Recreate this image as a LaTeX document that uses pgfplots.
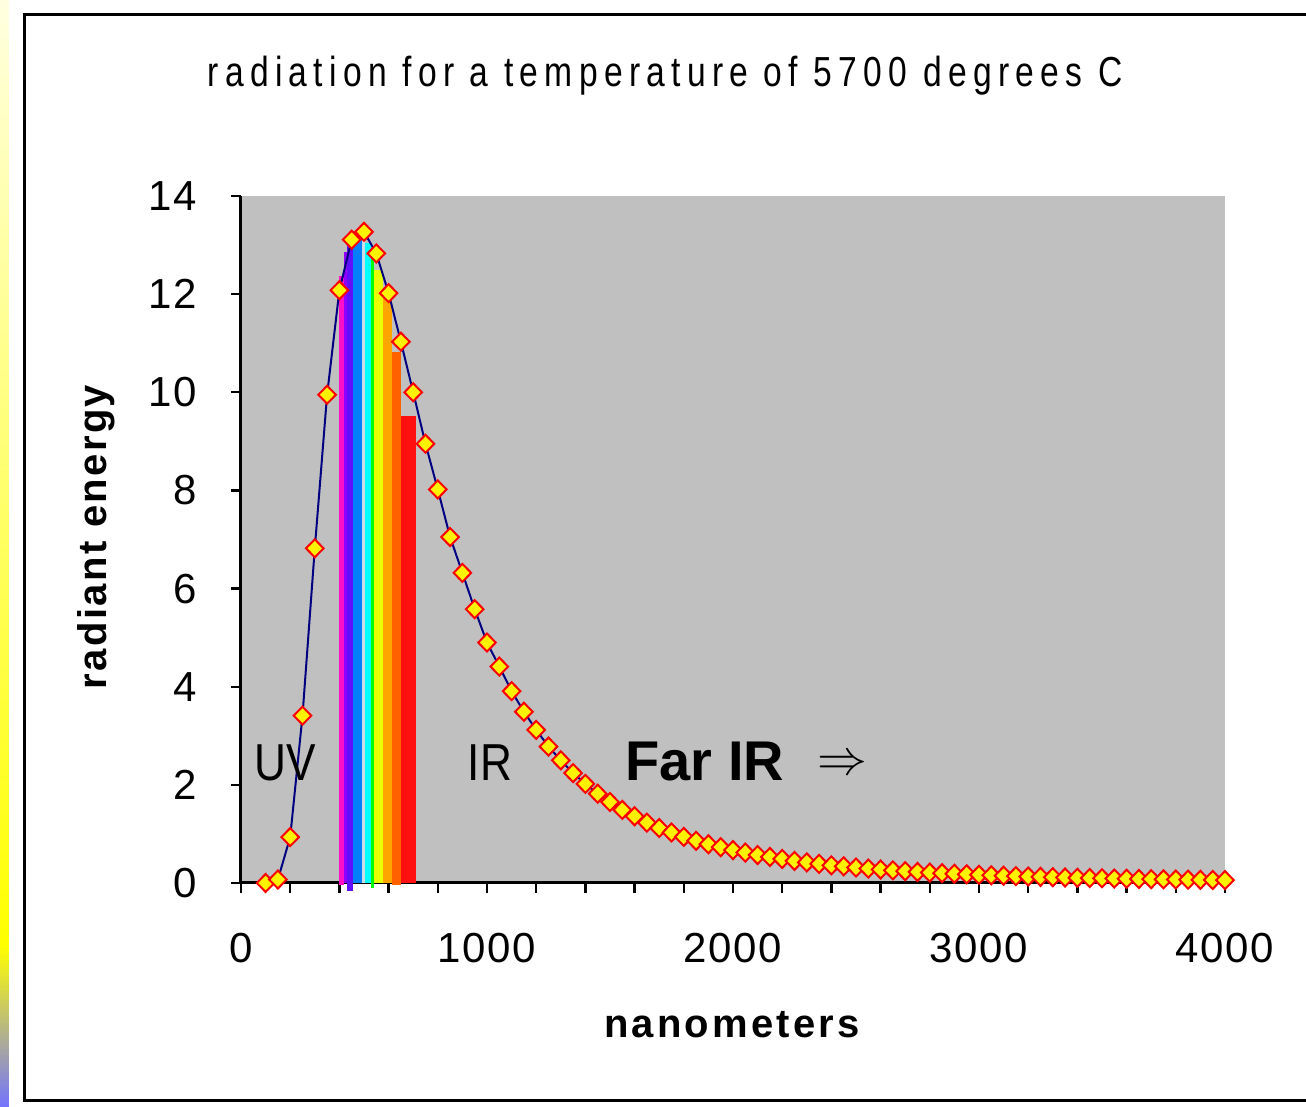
\documentclass[border=0pt]{standalone}
\usepackage{fontspec}
\setmainfont{Liberation Sans}
\newfontfamily\titlefont[FakeStretch=0.8,LetterSpace=15]{Liberation Sans}
\newfontfamily\xlabfont[LetterSpace=8]{Liberation Sans}
\newfontfamily\ylabfont[LetterSpace=6]{Liberation Sans}
\newfontfamily\tickfont[LetterSpace=4]{Liberation Sans}
\newfontfamily\bandfont[FakeStretch=0.85]{Liberation Sans}
\usepackage{pgfplots}
\pgfplotsset{compat=1.18}

\definecolor{plotgray}{HTML}{C0C0C0}
\definecolor{curve}{HTML}{000080}
\definecolor{cmag}{HTML}{FF10C8}
\definecolor{cvio}{HTML}{9000FF}
\definecolor{cind}{HTML}{6010FF}
\definecolor{cblu}{HTML}{0080FF}
\definecolor{cpal}{HTML}{C8DCE8}
\definecolor{ccya}{HTML}{00FFFF}
\definecolor{cgre}{HTML}{00FF00}
\definecolor{cyel}{HTML}{E8FF00}
\definecolor{cora}{HTML}{FFA500}
\definecolor{cdor}{HTML}{FF6000}
\definecolor{cred}{HTML}{FF1010}

\begin{document}
\begin{tikzpicture}
\path[use as bounding box] (-120.5pt,-112pt) rectangle (532.5pt,441.5pt);
% strip down the left edge
\shade[top color=yellow!12, bottom color=yellow] (-120.5pt,441.5pt) rectangle (-116pt,-31.5pt);
\shade[top color=yellow, bottom color=blue!55!white] (-120.5pt,-31.5pt) rectangle (-116pt,-112pt);
\draw[line width=1.5pt] (545pt,434pt) -- (-108pt,434pt) -- (-108pt,-108.5pt) -- (545pt,-108.5pt);

\begin{axis}[
    scale only axis,
    width=492pt, height=343.5pt,
    xmin=0, xmax=4000,
    ymin=0, ymax=14,
    axis x line*=bottom, axis y line*=left,
    axis line style={line width=1.5pt,-},
    axis background/.style={fill=plotgray},
    tick align=outside,
    tick style={black, line width=1.2pt},
    major tick length=5pt, minor tick length=5pt,
    xtick={0,1000,...,4000},
    minor xtick={200,400,...,3800},
    ytick={0,2,...,14},
    scaled x ticks=false,
    /pgf/number format/1000 sep={},
    /pgf/number format/assume math mode=true,
    xticklabel style={font=\tickfont\fontsize{21}{21}\selectfont, anchor=base, inner sep=0pt, yshift=-34.5pt},
    yticklabel style={font=\tickfont\fontsize{21}{21}\selectfont, anchor=east, inner sep=0pt, xshift=-17pt},
    title={radiation for a temperature of 5700 degrees C},
    title style={at={(axis description cs:0.4309,1.1412)}, anchor=base, inner sep=0pt,
        font=\titlefont\fontsize{21}{21}\selectfont},
    xlabel={nanometers},
    xlabel style={at={(axis description cs:0.499,-0.2242)}, anchor=base, inner sep=0pt,
        font=\xlabfont\bfseries\fontsize{20}{20}\selectfont},
    ylabel={radiant energy},
    ylabel style={at={(axis description cs:-0.1366,0.5037)}, anchor=base, inner sep=0pt,
        font=\ylabfont\bfseries\fontsize{20}{20}\selectfont},
    clip=false,
]

% visible spectrum bands
\addplot[draw=none, fill=cmag] coordinates {(398,-0.04) (398,12.37) (419,12.37) (419,-0.04)};
\addplot[draw=none, fill=cvio] coordinates {(419,0) (419,12.85) (432,12.85) (432,0)};
\addplot[draw=none, fill=cind] coordinates {(432,-0.17) (432,13.05) (454,13.05) (454,-0.17)};
\addplot[draw=none, fill=cblu] coordinates {(454,0) (454,13.27) (491,13.27) (491,0)};
\addplot[draw=none, fill=cpal] coordinates {(491,0) (491,13.1) (504,13.1) (504,0)};
\addplot[draw=none, fill=ccya] coordinates {(504,0) (504,13.05) (528,13.05) (528,0)};
\addplot[draw=none, fill=cgre] coordinates {(528,-0.1) (528,12.87) (541,12.87) (541,-0.1)};
\addplot[draw=none, fill=cyel] coordinates {(541,0) (541,12.49) (578,12.49) (578,0)};
\addplot[draw=none, fill=cora] coordinates {(578,0) (578,11.96) (613,11.96) (613,0)};
\addplot[draw=none, fill=cdor] coordinates {(613,-0.04) (613,10.83) (649,10.83) (649,-0.04)};
\addplot[draw=none, fill=cred] coordinates {(649,0) (649,9.52) (711,9.52) (711,0)};

% radiation curve
\addplot[color=curve, line width=1pt, mark=diamond*, mark size=4.5pt,
    mark options={fill=yellow, draw=red, line width=1pt, solid, xscale=1.3}]
coordinates {
(100,0.0002)(150,0.071)(200,0.935)(250,3.41)(300,6.82)(350,9.95)(400,12.08)
(450,13.11)(500,13.27)(550,12.83)(600,12.02)(650,11.03)(700,10.0)(750,8.95)
(800,8.02)(850,7.05)(900,6.32)(950,5.58)(1000,4.90)(1050,4.41)(1100,3.91)
(1150,3.49)(1200,3.12)(1250,2.78)(1300,2.50)(1350,2.24)(1400,2.02)(1450,1.82)
(1500,1.65)(1550,1.49)(1600,1.36)(1650,1.23)(1700,1.12)(1750,1.03)(1800,0.94)
(1850,0.86)(1900,0.79)(1950,0.73)(2000,0.67)(2050,0.62)(2100,0.57)(2150,0.53)
(2200,0.49)(2250,0.45)(2300,0.42)(2350,0.39)(2400,0.36)(2450,0.34)(2500,0.315)
(2550,0.294)(2600,0.275)(2650,0.257)(2700,0.241)(2750,0.226)(2800,0.212)
(2850,0.200)(2900,0.188)(2950,0.177)(3000,0.167)(3050,0.157)(3100,0.148)
(3150,0.140)(3200,0.132)(3250,0.125)(3300,0.118)(3350,0.112)(3400,0.106)
(3450,0.101)(3500,0.096)(3550,0.091)(3600,0.087)(3650,0.082)(3700,0.078)
(3750,0.075)(3800,0.071)(3850,0.068)(3900,0.065)(3950,0.062)(4000,0.059)
};

\node[font=\bandfont\fontsize{26}{26}\selectfont, anchor=base, inner sep=0pt] at (axis cs:179,2.08) {UV};
\node[font=\bandfont\fontsize{26}{26}\selectfont, anchor=base, inner sep=0pt] at (axis cs:1012,2.08) {IR};
\node[font=\bfseries\fontsize{28}{28}\selectfont, anchor=base west, inner sep=0pt] at (axis cs:1561,2.08) {Far IR};
\node[font=\fontsize{32}{32}\selectfont, anchor=center, inner sep=0pt] at (axis cs:2443,2.40) {$\Rightarrow$};
\end{axis}
\end{tikzpicture}
\end{document}
